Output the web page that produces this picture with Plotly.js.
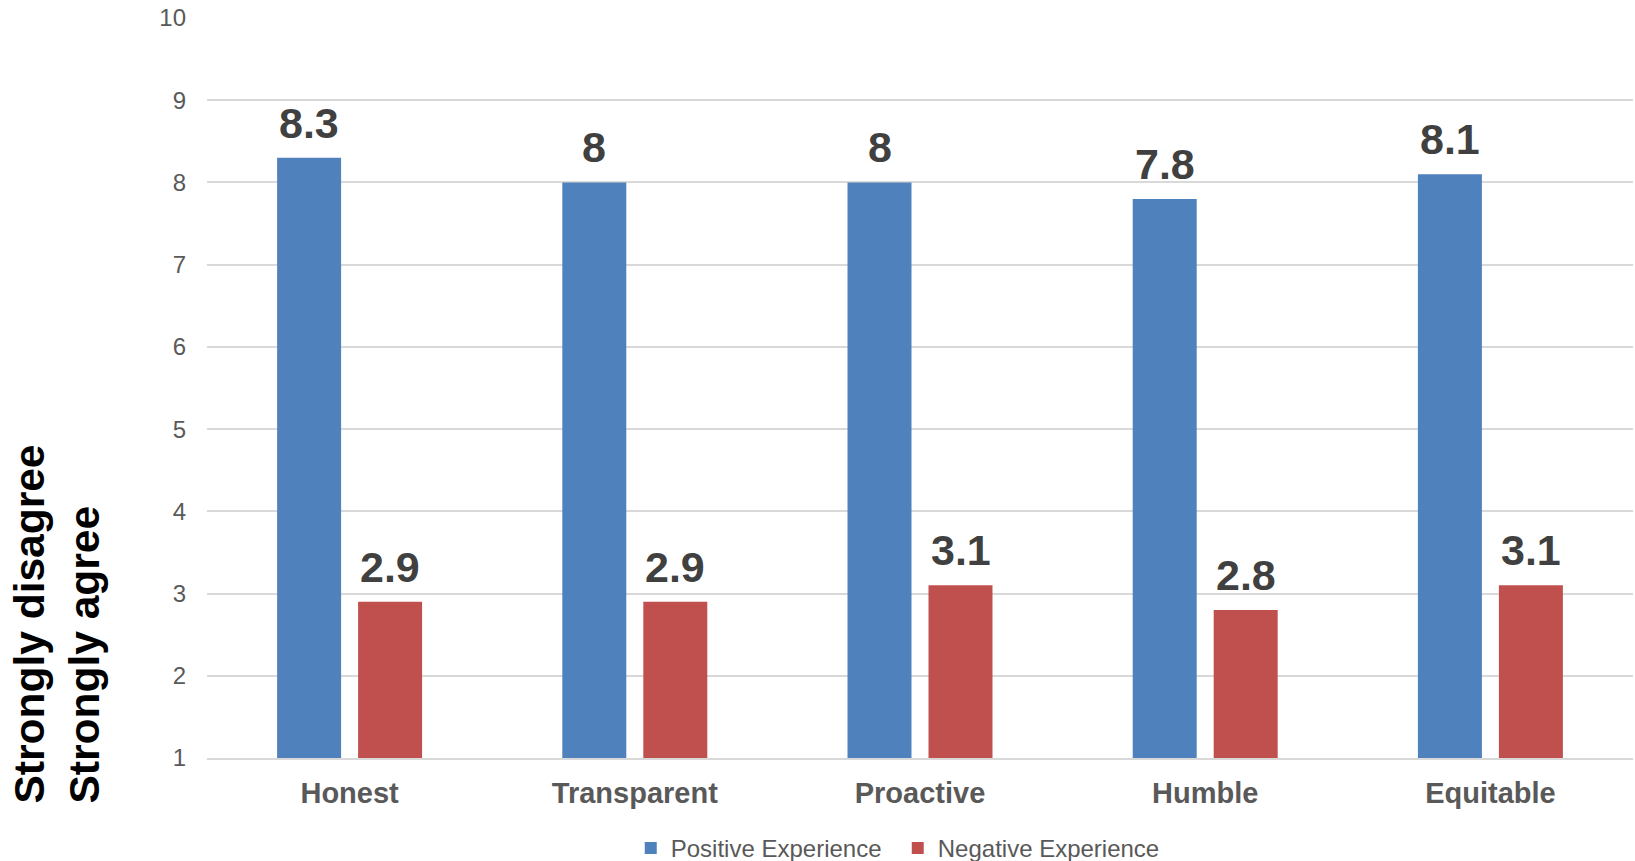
<!DOCTYPE html>
<html>
<head>
<meta charset="utf-8">
<script src="https://cdn.plot.ly/plotly-3.0.1.min.js"></script>
<style>
  html, body { margin: 0; padding: 0; background: #ffffff; }
  #chart { width: 1635px; height: 861px; }
</style>
</head>
<body>
<div id="chart"></div>
<script>
// Leadership traits rated after positive vs. negative experiences (1–10 scale)
const categories = ["Honest", "Transparent", "Proactive", "Humble", "Equitable"];
const positiveValues = [8.3, 8, 8, 7.8, 8.1];
const negativeValues = [2.9, 2.9, 3.1, 2.8, 3.1];
const seriesNames = ["Positive Experience", "Negative Experience"];
const yTickValues = [1, 2, 3, 4, 5, 6, 7, 8, 9, 10];

const FONT = "Liberation Sans, Arial, Helvetica, sans-serif";
const BLUE = "#4F81BD";
const RED = "#C0504D";

const traces = [
  {
    type: "bar",
    name: seriesNames[0],
    x: categories,
    y: positiveValues,
    marker: { color: BLUE },
    hoverinfo: "x+y"
  },
  {
    type: "bar",
    name: seriesNames[1],
    x: categories,
    y: negativeValues,
    marker: { color: RED },
    hoverinfo: "x+y"
  }
];

// Value labels above each bar, offset left/right to sit over its bar in the group
const SLOT_HALF = 40.5;
function valueLabels(values, shift) {
  return values.map((v, i) => ({
    x: categories[i],
    y: v,
    xref: "x",
    yref: "y",
    text: "<b>" + v + "</b>",
    showarrow: false,
    xanchor: "center",
    yanchor: "bottom",
    xshift: shift,
    yshift: 9,
    font: { family: FONT, size: 43, color: "#404040" }
  }));
}

const annotations = [
  ...valueLabels(positiveValues, -SLOT_HALF),
  ...valueLabels(negativeValues, SLOT_HALF),
  {
    xref: "paper",
    yref: "paper",
    x: 0,
    y: 0,
    xanchor: "center",
    yanchor: "bottom",
    xshift: -151,
    yshift: -48,
    textangle: -90,
    align: "left",
    showarrow: false,
    text: "<b>Strongly disagree<br>Strongly agree</b>",
    font: { family: FONT, size: 42.5, color: "#000000" }
  }
];

const layout = {
  width: 1635,
  height: 861,
  margin: { l: 207, r: 2, t: 18, b: 103, autoexpand: false },
  paper_bgcolor: "#ffffff",
  plot_bgcolor: "#ffffff",
  barmode: "group",
  bargap: 0.432,
  bargroupgap: 0.21,
  showlegend: true,
  legend: {
    orientation: "h",
    x: 0.4844,
    xanchor: "center",
    y: -0.122,
    yanchor: "middle",
    font: { family: FONT, size: 24, color: "#595959" },
    itemwidth: 30,
    entrywidth: 222,
    entrywidthmode: "pixels",
    tracegroupgap: 0
  },
  xaxis: {
    type: "category",
    showgrid: false,
    zeroline: false,
    showline: true,
    linecolor: "#D9D9D9",
    linewidth: 2,
    ticks: "",
    automargin: false,
    ticklabelstandoff: 8,
    tickfont: { family: FONT, size: 29, color: "#595959", weight: "bold" }
  },
  yaxis: {
    range: [1, 10],
    tickvals: yTickValues,
    ticktext: yTickValues.map(String),
    showgrid: true,
    gridcolor: "#D9D9D9",
    gridwidth: 2,
    zeroline: false,
    showline: false,
    ticks: "",
    automargin: false,
    ticklabelstandoff: 20,
    tickfont: { family: FONT, size: 24, color: "#595959" }
  },
  annotations: annotations,
  font: { family: FONT }
};

Plotly.newPlot("chart", traces, layout, { displayModeBar: false, responsive: false });
</script>
</body>
</html>
